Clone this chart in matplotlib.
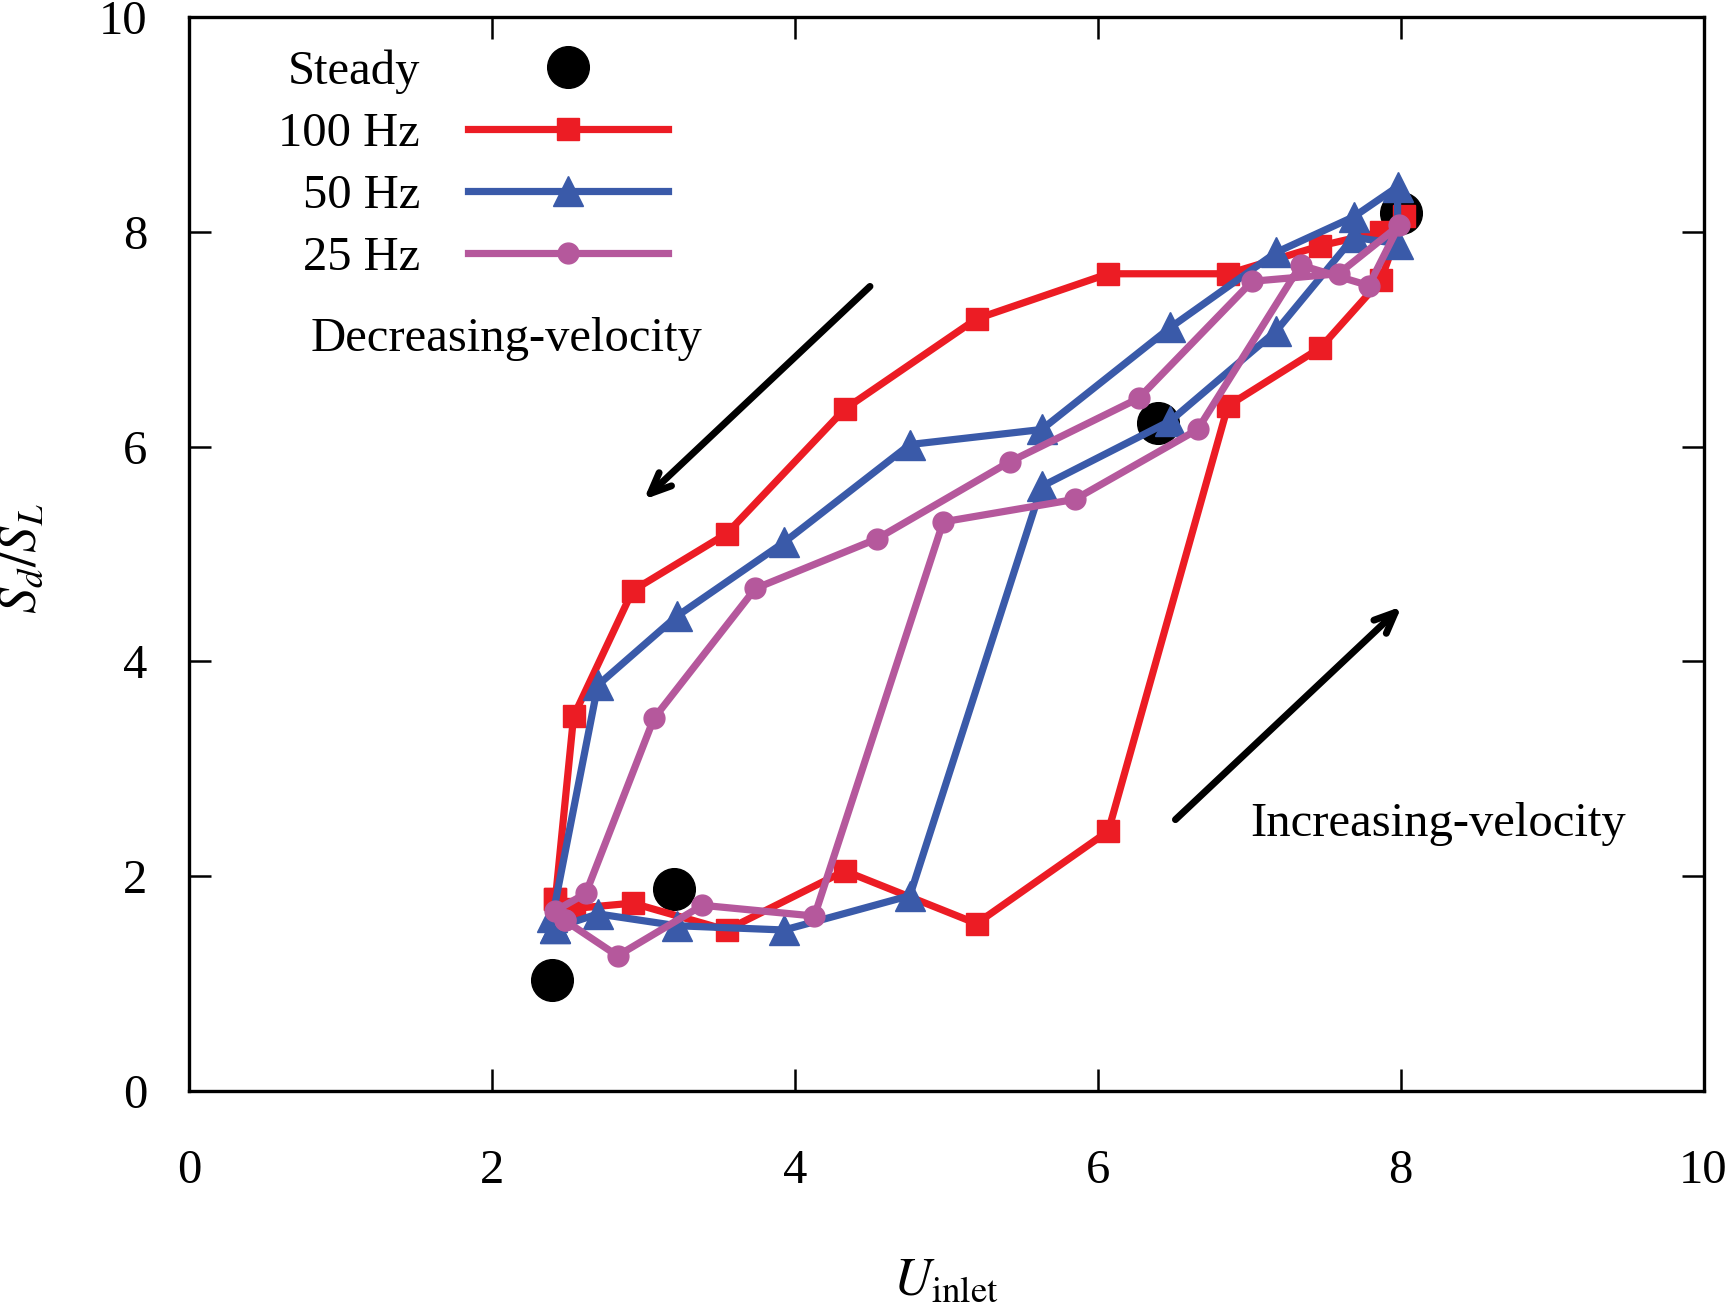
import matplotlib
matplotlib.use("Agg")
import matplotlib.pyplot as plt

plt.rcParams['font.family'] = ['Liberation Serif', 'DejaVu Serif']
plt.rcParams['mathtext.fontset'] = 'stix'

# steady-state points
u_steady = [2.40, 3.20, 6.40, 8.00]
s_steady = [1.03, 1.88, 6.22, 8.18]

# 100 Hz loop (increasing branch, then decreasing branch)
u_100 = [2.42, 2.54, 2.93, 3.55, 4.33, 5.20, 6.07, 6.86, 7.47, 7.87, 8.02,
         7.87, 7.47, 6.86, 6.07, 5.20, 4.33, 3.55, 2.93, 2.54, 2.42]
s_100 = [1.79, 1.70, 1.75, 1.50, 2.05, 1.56, 2.42, 6.38, 6.92, 7.55, 8.15,
         8.00, 7.87, 7.61, 7.61, 7.19, 6.35, 5.19, 4.66, 3.49, 1.79]

# 50 Hz loop
u_50 = [2.42, 2.70, 3.22, 3.93, 4.76, 5.63, 6.48, 7.18, 7.69, 7.98,
        7.98, 7.69, 7.18, 6.48, 5.63, 4.76, 3.93, 3.22, 2.70, 2.40, 2.42]
s_50 = [1.52, 1.65, 1.54, 1.50, 1.82, 5.63, 6.24, 7.08, 7.95, 7.89,
        8.42, 8.14, 7.81, 7.11, 6.16, 6.02, 5.11, 4.42, 3.78, 1.62, 1.52]

# 25 Hz loop
u_25 = [2.48, 2.83, 3.39, 4.13, 4.98, 5.85, 6.66, 7.34, 7.79, 7.99,
        7.59, 7.02, 6.27, 5.42, 4.54, 3.74, 3.07, 2.62, 2.42, 2.48]
s_25 = [1.59, 1.26, 1.73, 1.63, 5.30, 5.51, 6.16, 7.69, 7.50, 8.06,
        7.61, 7.54, 6.45, 5.86, 5.14, 4.68, 3.47, 1.84, 1.68, 1.59]

RED = '#ec1c24'
BLUE = '#3a5aa9'
PURPLE = '#b5589c'
FS = 35


def main():
    fig = plt.figure(figsize=(17.33, 13.13), dpi=100)
    ax = fig.add_axes([0.109, 0.169, 0.874, 0.818])

    ax.plot(u_steady, s_steady, 'o', color='black', markersize=30,
            linestyle='none', label='Steady', zorder=2)
    ax.plot(u_100, s_100, '-s', color=RED, lw=5.2, markersize=16,
            label='100 Hz', zorder=3)
    ax.plot(u_50, s_50, '-^', color=BLUE, lw=5.2, markersize=22,
            label='50 Hz', zorder=4)
    ax.plot(u_25, s_25, '-o', color=PURPLE, lw=5.2, markersize=15,
            label='25 Hz', zorder=5)

    arrow = dict(arrowstyle='->,head_length=1.5,head_width=0.65',
                 color='black', lw=5)
    ax.annotate('', xy=(2.99, 5.49), xytext=(4.51, 7.51), arrowprops=arrow)
    ax.annotate('', xy=(8.02, 4.53), xytext=(6.50, 2.51), arrowprops=arrow)
    ax.text(2.10, 7.0, 'Decreasing-velocity', fontsize=FS, ha='center',
            va='center')
    ax.text(8.25, 2.49, 'Increasing-velocity', fontsize=FS, ha='center',
            va='center')

    ax.set_xlim(0, 10)
    ax.set_ylim(0, 10)
    ax.set_xticks(range(0, 11, 2))
    ax.set_yticks(range(0, 11, 2))
    ax.tick_params(direction='in', length=16, width=1.8, top=True,
                   right=True, labelsize=FS)
    ax.tick_params(axis='x', pad=42)
    ax.tick_params(axis='y', pad=30)
    for sp in ax.spines.values():
        sp.set_linewidth(2.4)

    ax.set_xlabel(r'$U_{\rm inlet}$', fontsize=38)
    ax.set_ylabel(r'$S_d/S_L$', fontsize=38)
    ax.xaxis.set_label_coords(0.5, -0.155)
    ax.yaxis.set_label_coords(-0.094, 0.496)

    ax.legend(loc='upper left', bbox_to_anchor=(0.059, 0.97), frameon=False,
              markerfirst=False, fontsize=FS, handlelength=4.1,
              handletextpad=1.0, labelspacing=0.37, numpoints=1,
              borderaxespad=0, borderpad=0)

    fig.savefig('out.png', dpi=100)


if __name__ == "__main__":
    main()
